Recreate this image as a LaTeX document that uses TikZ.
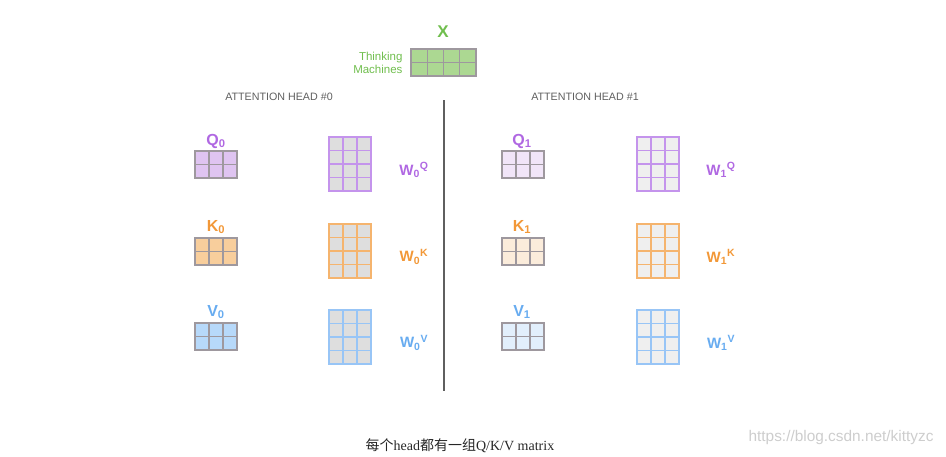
\documentclass[tikz,border=0pt]{standalone}
\usepackage{fontspec}
\setmainfont{Liberation Sans}
\newfontfamily\cjk{Noto Sans CJK SC}
\newfontfamily\capserif{Liberation Serif}
\usetikzlibrary{positioning}
\definecolor{xgreen}{RGB}{112,190,78}
\definecolor{xgreenfill}{RGB}{172,216,146}
\definecolor{qpurple}{RGB}{176,104,226}
\definecolor{qfill}{RGB}{223,196,241}
\definecolor{qfilllight}{RGB}{241,229,248}
\definecolor{qline}{RGB}{196,148,236}
\definecolor{korange}{RGB}{242,152,56}
\definecolor{kfill}{RGB}{248,206,156}
\definecolor{kfilllight}{RGB}{251,236,219}
\definecolor{kline}{RGB}{245,180,110}
\definecolor{vblue}{RGB}{104,172,240}
\definecolor{vfill}{RGB}{183,217,250}
\definecolor{vfilllight}{RGB}{226,239,252}
\definecolor{vline}{RGB}{152,197,246}
\definecolor{wfill}{RGB}{222,222,222}
\definecolor{wfilllight}{RGB}{239,239,239}
\definecolor{gridgray}{RGB}{158,152,158}
\definecolor{headgray}{RGB}{95,95,95}
\definecolor{marksgray}{RGB}{205,205,205}

% one matrix: x, y (top left), cols, rows, cell width, cell height, fill, line colour
\newcommand{\mtx}[8]{%
  \fill[#7] (#1,#2) rectangle ({#1+#3*#5},{#2+#4*#6});
  \foreach \i in {0,...,#3}{
    \draw[cell,#8] ({#1+\i*#5},#2) -- ({#1+\i*#5},{#2+#4*#6});}
  \foreach \j in {0,...,#4}{
    \draw[cell,#8] (#1,{#2+\j*#6}) -- ({#1+#3*#5},{#2+\j*#6});}}

\begin{document}
\begin{tikzpicture}[
    x=1pt, y=-1pt,
    cell/.style={line width=1.1pt,line cap=rect},
    lbl/.style={font=\fontsize{16}{16}\selectfont\bfseries},
    wlbl/.style={font=\fontsize{15}{15}\selectfont\bfseries},
    head/.style={font=\fontsize{10.7}{11}\selectfont,text=headgray}
]
\useasboundingbox (0,0) rectangle (946,456);

% input
\node[font=\fontsize{17}{17}\selectfont\bfseries,text=xgreen] (xlabel) at (443,32) {X};
\mtx{411}{49}{4}{2}{16.25}{13.5}{xgreenfill}{gridgray}
\node[anchor=east,align=right,text=xgreen,font=\fontsize{11.5}{13}\selectfont] (words) at (406,62.5) {Thinking\\Machines};

% heads
\node[head] (head0) at (279,97) {ATTENTION HEAD \#0};
\node[head] (head1) at (585,97) {ATTENTION HEAD \#1};
\coordinate (divtop) at (444,100);
\coordinate (divbot) at (444,391);
\draw[headgray,line width=1.4pt] (divtop) -- (divbot);

% head 0
\node[lbl,text=qpurple] (q0) at (216,141) {Q\textsubscript{0}};
\mtx{195}{151}{3}{2}{14}{13.5}{qfill}{gridgray}
\mtx{329}{137}{3}{4}{14}{13.5}{wfill}{qline}
\node[wlbl,text=qpurple] (wq0) at (414,170) {W\textsubscript{0}\textsuperscript{Q}};

\node[lbl,text=korange] (k0) at (216,227) {K\textsubscript{0}};
\mtx{195}{238}{3}{2}{14}{13.5}{kfill}{gridgray}
\mtx{329}{224}{3}{4}{14}{13.5}{wfill}{kline}
\node[wlbl,text=korange] (wk0) at (414,257) {W\textsubscript{0}\textsuperscript{K}};

\node[lbl,text=vblue] (v0) at (216,312) {V\textsubscript{0}};
\mtx{195}{323}{3}{2}{14}{13.5}{vfill}{gridgray}
\mtx{329}{310}{3}{4}{14}{13.5}{wfill}{vline}
\node[wlbl,text=vblue] (wv0) at (414,343) {W\textsubscript{0}\textsuperscript{V}};

% head 1
\node[lbl,text=qpurple] (q1) at (522,141) {Q\textsubscript{1}};
\mtx{502}{151}{3}{2}{14}{13.5}{qfilllight}{gridgray}
\mtx{637}{137}{3}{4}{14}{13.5}{wfilllight}{qline}
\node[wlbl,text=qpurple] (wq1) at (721,170) {W\textsubscript{1}\textsuperscript{Q}};

\node[lbl,text=korange] (k1) at (522,227) {K\textsubscript{1}};
\mtx{502}{238}{3}{2}{14}{13.5}{kfilllight}{gridgray}
\mtx{637}{224}{3}{4}{14}{13.5}{wfilllight}{kline}
\node[wlbl,text=korange] (wk1) at (721,257) {W\textsubscript{1}\textsuperscript{K}};

\node[lbl,text=vblue] (v1) at (522,312) {V\textsubscript{1}};
\mtx{502}{323}{3}{2}{14}{13.5}{vfilllight}{gridgray}
\mtx{637}{310}{3}{4}{14}{13.5}{wfilllight}{vline}
\node[wlbl,text=vblue] (wv1) at (721,343) {W\textsubscript{1}\textsuperscript{V}};

% caption
\node[font=\capserif\fontsize{14}{14}\selectfont,text=black!85] (caption) at (460,446) {{\cjk 每个}head{\cjk 都有一组}Q/K/V matrix};
\node[anchor=east,font=\fontsize{15.4}{15}\selectfont,text=marksgray] (marks) at (937,438) {https://blog.csdn.net/kittyzc};
\end{tikzpicture}
\end{document}
